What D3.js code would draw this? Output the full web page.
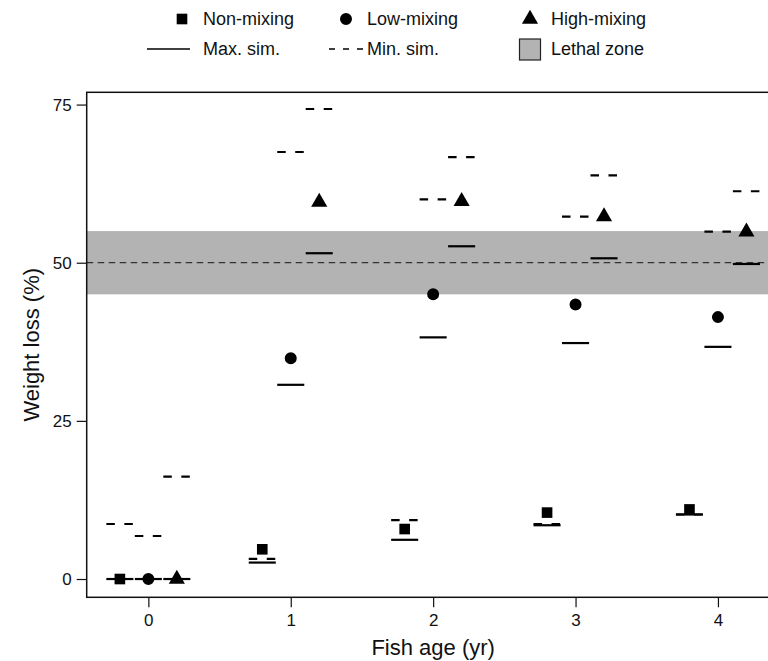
<!DOCTYPE html>
<html>
<head>
<meta charset="utf-8">
<script src="https://cdn.jsdelivr.net/npm/d3@7"></script>
<style>
  html, body { margin: 0; padding: 0; background: #fff; }
  svg { display: block; font-family: "Liberation Sans", Arial, Helvetica, sans-serif; }
</style>
</head>
<body>
<svg id="chart" width="768" height="661"></svg>
<script>
// ---- Data ----
const ages = [0, 1, 2, 3, 4];
const groups = ["Non-mixing", "Low-mixing", "High-mixing"];
const groupOffsets = [-0.2, 0, 0.2];

const nonMixing  = [0, 4.7, 7.9, 10.5, 11.0];
const lowMixing  = [0, 34.9, 45.0, 43.4, 41.4];
const highMixing = [0, 59.6, 59.7, 57.3, 54.9];

const maxSimNon  = [0, 2.6, 6.2, 8.5, 10.2];
const maxSimLow  = [0, 30.7, 38.2, 37.3, 36.7];
const maxSimHigh = [0, 51.5, 52.6, 50.7, 49.8];

const minSimNon  = [8.7, 3.2, 9.3, 8.7, 10.2];
const minSimLow  = [6.8, 67.5, 60.0, 57.3, 54.9];
const minSimHigh = [16.2, 74.3, 66.7, 63.8, 61.3];

const lethalLow = 45, lethalHigh = 55, lethalMid = 50;

const xTicks = [0, 1, 2, 3, 4];
const yTicks = [0, 25, 50, 75];
const xTitle = "Fish age (yr)";
const yTitle = "Weight loss (%)";

const observed = [nonMixing, lowMixing, highMixing];
const maxSim = [maxSimNon, maxSimLow, maxSimHigh];
const minSim = [minSimNon, minSimLow, minSimHigh];
const symbols = [d3.symbolSquare, d3.symbolCircle, d3.symbolTriangle];

// ---- Layout ----
const svg = d3.select("#chart");
const pL = 86.7, pR = 779.6, pT = 92.3, pB = 597.3;
const x = d3.scaleLinear().domain([-0.433, 4.433]).range([pL, pR]);
const y = d3.scaleLinear().domain([-2.89, 76.94]).range([pB, pT]);
const halfW = 0.095;
const markerSize = 113;

// Lethal zone
svg.append("rect")
  .attr("x", pL).attr("width", pR - pL)
  .attr("y", y(lethalHigh)).attr("height", y(lethalLow) - y(lethalHigh))
  .attr("fill", "#b3b3b3");
svg.append("line")
  .attr("x1", pL).attr("x2", pR)
  .attr("y1", y(lethalMid)).attr("y2", y(lethalMid))
  .attr("stroke", "#333").attr("stroke-width", 1.3)
  .attr("stroke-dasharray", "6.5,4.5");

// Simulation segments
const segRows = [];
groups.forEach((g, gi) => {
  ages.forEach((a, ai) => {
    segRows.push({ xc: a + groupOffsets[gi], v: maxSim[gi][ai], type: "max" });
    segRows.push({ xc: a + groupOffsets[gi], v: minSim[gi][ai], type: "min" });
  });
});
svg.append("g").selectAll("line").data(segRows).join("line")
  .attr("x1", d => x(d.xc - halfW)).attr("x2", d => x(d.xc + halfW))
  .attr("y1", d => y(d.v)).attr("y2", d => y(d.v))
  .attr("stroke", "#000").attr("stroke-width", 2.2)
  .attr("stroke-dasharray", d => d.type === "min" ? "8.5,9.5" : null);

// Observed points
groups.forEach((g, gi) => {
  svg.append("g").selectAll("path").data(ages).join("path")
    .attr("transform", (a, ai) => `translate(${x(a + groupOffsets[gi])},${y(observed[gi][ai])})`)
    .attr("d", d3.symbol().type(symbols[gi]).size(markerSize))
    .attr("fill", "#000");
});

// Box
svg.append("rect")
  .attr("x", pL).attr("y", pT)
  .attr("width", pR - pL).attr("height", pB - pT)
  .attr("fill", "none").attr("stroke", "#111").attr("stroke-width", 1.5);

// Axes
const yAxis = svg.append("g").attr("transform", `translate(${pL},0)`)
  .call(d3.axisLeft(y).tickValues(yTicks).tickSize(10).tickPadding(5).tickFormat(d3.format("d")));
yAxis.select(".domain").remove();
yAxis.selectAll("line").attr("stroke", "#111").attr("stroke-width", 1.2);
yAxis.selectAll("text").attr("font-size", 17).attr("fill", "#111")
  .attr("font-family", "Liberation Sans, Arial, sans-serif");

const xAxis = svg.append("g").attr("transform", `translate(0,${pB})`)
  .call(d3.axisBottom(x).tickValues(xTicks).tickSize(10).tickFormat(d3.format("d")));
xAxis.select(".domain").remove();
xAxis.selectAll("line").attr("stroke", "#111").attr("stroke-width", 1.2);
xAxis.selectAll("text").attr("font-size", 17).attr("fill", "#111")
  .attr("y", 29).attr("dy", null)
  .attr("font-family", "Liberation Sans, Arial, sans-serif");

// Titles
svg.append("text").attr("x", (pL + pR) / 2).attr("y", 655)
  .attr("text-anchor", "middle").attr("font-size", 22).attr("fill", "#111")
  .text(xTitle);
svg.append("text")
  .attr("transform", `translate(39,${(pT + pB) / 2}) rotate(-90)`)
  .attr("text-anchor", "middle").attr("font-size", 22).attr("fill", "#111")
  .text(yTitle);

// Legend
const legRow1 = 19, legRow2 = 49;
const legCols = [
  { key: 182, text: 203 },
  { key: 346, text: 367 },
  { key: 530, text: 551 }
];
const legFont = 18;
groups.forEach((g, gi) => {
  svg.append("path")
    .attr("transform", `translate(${legCols[gi].key},${legRow1})`)
    .attr("d", d3.symbol().type(symbols[gi]).size(markerSize))
    .attr("fill", "#000");
  svg.append("text").attr("x", legCols[gi].text).attr("y", legRow1 + 6)
    .attr("font-size", legFont).attr("fill", "#111").text(g);
});
const legend2 = ["Max. sim.", "Min. sim.", "Lethal zone"];
svg.append("line").attr("x1", 147).attr("x2", 190)
  .attr("y1", legRow2).attr("y2", legRow2)
  .attr("stroke", "#000").attr("stroke-width", 1.5);
svg.append("line").attr("x1", 329).attr("x2", 363)
  .attr("y1", legRow2).attr("y2", legRow2)
  .attr("stroke", "#000").attr("stroke-width", 1.5)
  .attr("stroke-dasharray", "6,8");
svg.append("rect").attr("x", 519.5).attr("y", 39).attr("width", 21).attr("height", 21)
  .attr("fill", "#b3b3b3").attr("stroke", "#222").attr("stroke-width", 1.2);
legend2.forEach((t, i) => {
  svg.append("text").attr("x", legCols[i].text).attr("y", legRow2 + 6)
    .attr("font-size", legFont).attr("fill", "#111").text(t);
});
</script>
</body>
</html>
